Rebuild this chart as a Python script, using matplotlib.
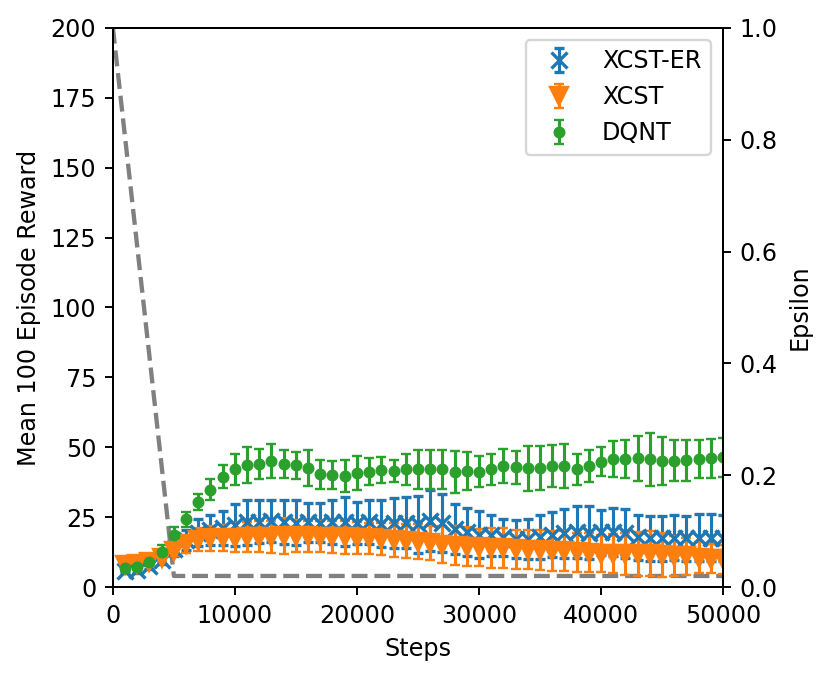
import matplotlib
matplotlib.use('Agg')
import matplotlib.pyplot as plt

# x positions (training steps)
steps = [1000, 2000, 3000, 4000, 5000, 6000, 7000, 8000, 9000, 10000,
         11000, 12000, 13000, 14000, 15000, 16000, 17000, 18000, 19000, 20000,
         21000, 22000, 23000, 24000, 25000, 26000, 27000, 28000, 29000, 30000,
         31000, 32000, 33000, 34000, 35000, 36000, 37000, 38000, 39000, 40000,
         41000, 42000, 43000, 44000, 45000, 46000, 47000, 48000, 49000, 50000]

# XCST-ER
xcst_er_mean = [5.8, 6.0, 7.5, 9.7, 13.8, 16.8, 19.5, 20.3, 21.2, 22.3,
                23.2, 23.4, 23.6, 23.4, 23.0, 23.2, 23.0, 23.4, 23.4, 23.1,
                23.2, 22.7, 22.9, 23.1, 22.5, 23.8, 22.8, 20.8, 19.6, 18.8,
                18.5, 17.8, 17.3, 17.3, 18.0, 18.7, 19.2, 19.7, 19.4, 19.6,
                19.7, 19.2, 17.8, 17.5, 17.5, 17.7, 17.5, 17.7, 17.7, 17.7]
xcst_er_err = [0.8, 0.8, 1.0, 1.5, 2.5, 3.5, 4.9, 5.4, 6.2, 7.5,
               8.0, 7.6, 7.5, 7.8, 8.1, 7.0, 7.0, 7.8, 8.8, 7.5,
               7.8, 8.5, 9.0, 9.2, 10.2, 10.8, 10.4, 8.8, 8.6, 8.4,
               7.4, 6.7, 6.7, 7.1, 7.8, 8.0, 8.9, 9.2, 9.5, 8.0,
               8.6, 8.9, 8.0, 8.0, 8.0, 8.0, 8.0, 8.5, 8.5, 8.2]

# XCST
xcst_mean = [8.0, 8.3, 9.0, 10.5, 13.0, 15.3, 17.0, 17.4, 17.6, 17.7,
             17.9, 18.0, 18.0, 18.4, 18.2, 18.2, 18.0, 18.0, 17.8, 17.6,
             17.4, 17.2, 16.9, 16.6, 16.3, 15.8, 15.2, 14.8, 14.5, 14.2,
             14.0, 13.9, 13.6, 13.4, 13.2, 12.9, 12.8, 12.5, 12.3, 12.0,
             12.0, 11.8, 11.8, 11.9, 11.5, 11.2, 11.0, 10.5, 10.2, 10.0]
xcst_err = [1.0, 1.0, 1.2, 1.5, 2.0, 3.0, 4.2, 4.5, 4.8, 5.2,
            5.5, 5.5, 5.8, 6.4, 5.8, 5.5, 5.5, 5.8, 5.8, 5.8,
            5.6, 5.8, 6.1, 6.0, 6.2, 6.2, 6.5, 7.0, 7.0, 6.7,
            7.0, 7.2, 7.0, 7.0, 7.2, 7.0, 7.2, 7.0, 7.0, 6.6,
            7.0, 7.5, 7.8, 8.0, 7.8, 7.2, 6.5, 5.5, 5.2, 5.2]

# DQNT
dqnt_mean = [7.0, 7.3, 9.1, 12.6, 18.6, 24.2, 30.5, 34.9, 39.5, 42.1,
             43.6, 44.0, 45.2, 44.0, 43.5, 42.5, 40.3, 40.1, 39.7, 40.7,
             41.3, 41.9, 41.6, 42.1, 42.1, 42.1, 42.1, 41.3, 41.6, 41.3,
             42.1, 43.3, 42.8, 42.5, 42.5, 43.3, 43.3, 42.1, 43.3, 44.8,
             45.7, 45.7, 46.0, 45.7, 45.2, 45.2, 45.4, 45.7, 46.0, 46.4]
dqnt_err = [1.2, 1.2, 1.5, 2.4, 2.9, 2.7, 2.9, 3.6, 4.0, 5.4,
            6.4, 5.4, 6.1, 5.1, 5.0, 6.4, 5.1, 5.1, 5.7, 6.1,
            4.7, 4.7, 3.9, 5.4, 6.9, 6.9, 6.9, 7.5, 6.7, 5.5,
            5.4, 6.1, 6.0, 8.0, 7.9, 7.5, 7.9, 5.5, 5.8, 5.2,
            6.4, 6.8, 7.9, 9.5, 8.6, 7.3, 7.3, 6.8, 6.8, 7.0]

# epsilon schedule (linear decay then constant)
eps_steps = [0, 5000, 50000]
eps_values = [1.0, 0.02, 0.02]

DPI = 172
fig, ax = plt.subplots(figsize=(830 / DPI, 678 / DPI), dpi=DPI)
fig.subplots_adjust(left=0.136, right=0.871, bottom=0.134, top=0.959)

ax2 = ax.twinx()
ax2.plot(eps_steps, eps_values, '--', color='grey', linewidth=1.8)
ax2.set_ylim(0, 1.0)
ax2.set_ylabel('Epsilon')

# keep reward curves on top of the epsilon line
ax.set_zorder(ax2.get_zorder() + 1)
ax.patch.set_visible(False)

ax.errorbar(steps, xcst_er_mean, yerr=xcst_er_err, fmt='x', capsize=2,
            elinewidth=1.3, markersize=6.5, markeredgewidth=1.4,
            color='C0', label='XCST-ER')
ax.errorbar(steps, xcst_mean, yerr=xcst_err, fmt='v', capsize=2,
            elinewidth=1.3, markersize=7.5,
            color='C1', label='XCST')
ax.errorbar(steps, dqnt_mean, yerr=dqnt_err, fmt='.', capsize=2,
            elinewidth=1.3, markersize=8,
            color='C2', label='DQNT')

ax.set_xlim(0, 50000)
ax.set_ylim(0, 200)
ax.set_xlabel('Steps')
ax.set_ylabel('Mean 100 Episode Reward')
ax.legend(loc='upper right')

plt.savefig('out.png', dpi=DPI)
plt.close()
